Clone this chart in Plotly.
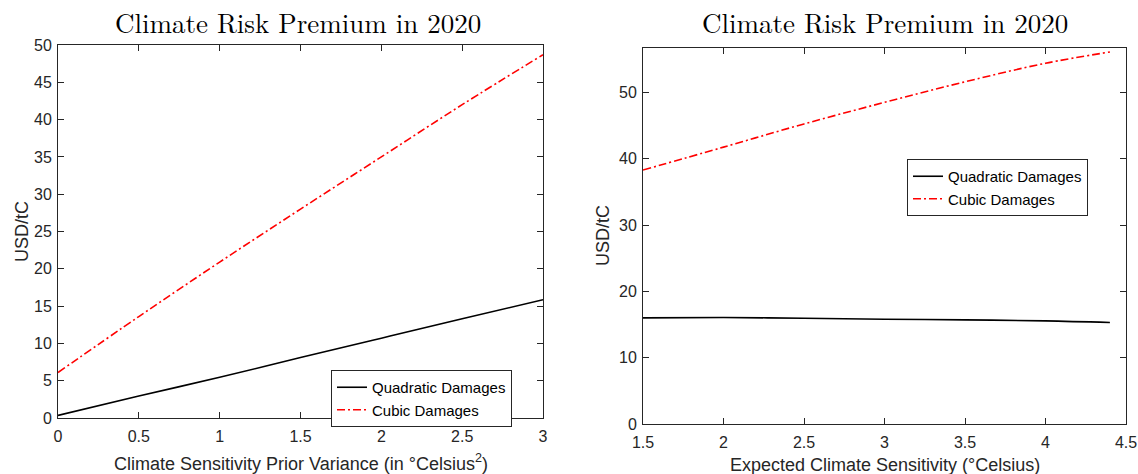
import plotly.graph_objects as go

# Left panel: prior variance
var_x = [0, 0.5, 1.0, 1.5, 2.0, 2.5, 3.0]
var_quad = [0.35, 2.95, 5.45, 8.1, 10.7, 13.3, 15.85]
var_cubic = [6.1, 13.6, 20.9, 28.0, 35.0, 42.0, 48.7]

# Right panel: expected climate sensitivity
ecs_x = [1.5, 2.0, 2.5, 3.0, 3.5, 4.0, 4.4]
ecs_quad = [16.0, 16.05, 15.95, 15.8, 15.7, 15.55, 15.3]
ecs_cubic = [38.3, 41.75, 45.25, 48.5, 51.6, 54.4, 56.1]

left_xticks = [0, 0.5, 1, 1.5, 2, 2.5, 3]
left_yticks = list(range(0, 55, 5))
right_xticks = [1.5, 2, 2.5, 3, 3.5, 4, 4.5]
right_yticks = [0, 10, 20, 30, 40, 50]

W, H = 1138, 474
AX = "#262626"
RED = "#ff0000"
DASHDOT = "8px,3px,2px,3px"

fig = go.Figure()
fig.add_trace(go.Scatter(x=var_x, y=var_quad, mode="lines", name="Quadratic Damages",
                         line=dict(color="black", width=1.6, shape="spline"),
                         xaxis="x", yaxis="y", legend="legend"))
fig.add_trace(go.Scatter(x=var_x, y=var_cubic, mode="lines", name="Cubic Damages",
                         line=dict(color=RED, width=1.6, dash=DASHDOT, shape="spline"),
                         xaxis="x", yaxis="y", legend="legend"))
fig.add_trace(go.Scatter(x=ecs_x, y=ecs_quad, mode="lines", name="Quadratic Damages",
                         line=dict(color="black", width=1.6, shape="spline"),
                         xaxis="x2", yaxis="y2", legend="legend2"))
fig.add_trace(go.Scatter(x=ecs_x, y=ecs_cubic, mode="lines", name="Cubic Damages",
                         line=dict(color=RED, width=1.6, dash=DASHDOT, shape="spline"),
                         xaxis="x2", yaxis="y2", legend="legend2"))

tickfont = dict(family="Liberation Sans, Arial, sans-serif", size=16, color=AX)
axis_common = dict(showline=True, linecolor=AX, linewidth=1, mirror="ticks",
                   ticks="inside", ticklen=6, tickcolor=AX, tickfont=tickfont,
                   showgrid=False, zeroline=False, automargin=False,
                   ticklabeloverflow="allow")

fig.update_layout(
    width=W, height=H,
    margin=dict(l=0, r=0, t=0, b=0),
    paper_bgcolor="white", plot_bgcolor="white",
    xaxis=dict(domain=[58 / W, 543 / W], range=[0, 3], tickvals=left_xticks,
               ticktext=[f"{v:g}" for v in left_xticks], anchor="y",
               ticklabelstandoff=4, **axis_common),
    yaxis=dict(domain=[1 - 418 / H, 1 - 45 / H], range=[0, 50], tickvals=left_yticks,
               anchor="x", ticklabelstandoff=2, **axis_common),
    xaxis2=dict(domain=[643 / W, 1126 / W], range=[1.5, 4.5], tickvals=right_xticks,
                ticktext=[f"{v:g}" for v in right_xticks], anchor="y2",
                ticklabelstandoff=4, **axis_common),
    yaxis2=dict(domain=[1 - 424 / H, 1 - 48 / H], range=[0, 56.7], tickvals=right_yticks,
                anchor="x2", ticklabelstandoff=2, **axis_common),
    legend=dict(x=331 / W, y=1 - 370 / H, xanchor="left", yanchor="top",
                bgcolor="white", bordercolor=AX, borderwidth=1,
                font=dict(family="Liberation Sans, Arial, sans-serif", size=15, color="black"),
                tracegroupgap=0, itemwidth=30),
    legend2=dict(x=907 / W, y=1 - 159 / H, xanchor="left", yanchor="top",
                 bgcolor="white", bordercolor=AX, borderwidth=1,
                 font=dict(family="Liberation Sans, Arial, sans-serif", size=15, color="black"),
                 tracegroupgap=0, itemwidth=30),
    showlegend=True,
)

title_font = dict(family="Latin Modern Roman, CMU Serif, Liberation Serif, serif", size=27, color="black")
label_font = dict(family="Liberation Sans, Arial, sans-serif", size=18, color=AX)

annotations = [
    dict(text="Climate Risk Premium in 2020", x=298 / W, y=1 - 22 / H, font=title_font),
    dict(text="Climate Risk Premium in 2020", x=885 / W, y=1 - 22 / H, font=title_font),
    dict(text="Climate Sensitivity Prior Variance (in °Celsius<sup>2</sup>)", x=300.5 / W,
         y=1 - 462 / H, font=label_font),
    dict(text="Expected Climate Sensitivity (°Celsius)", x=885 / W, y=1 - 465 / H, font=label_font),
    dict(text="USD/tC", x=22 / W, y=1 - 232 / H, textangle=-90, font=label_font),
    dict(text="USD/tC", x=603 / W, y=1 - 236 / H, textangle=-90, font=label_font),
]
for a in annotations:
    a.update(xref="paper", yref="paper", showarrow=False, xanchor="center", yanchor="middle")
fig.update_layout(annotations=annotations)

fig.write_html("out.html")
